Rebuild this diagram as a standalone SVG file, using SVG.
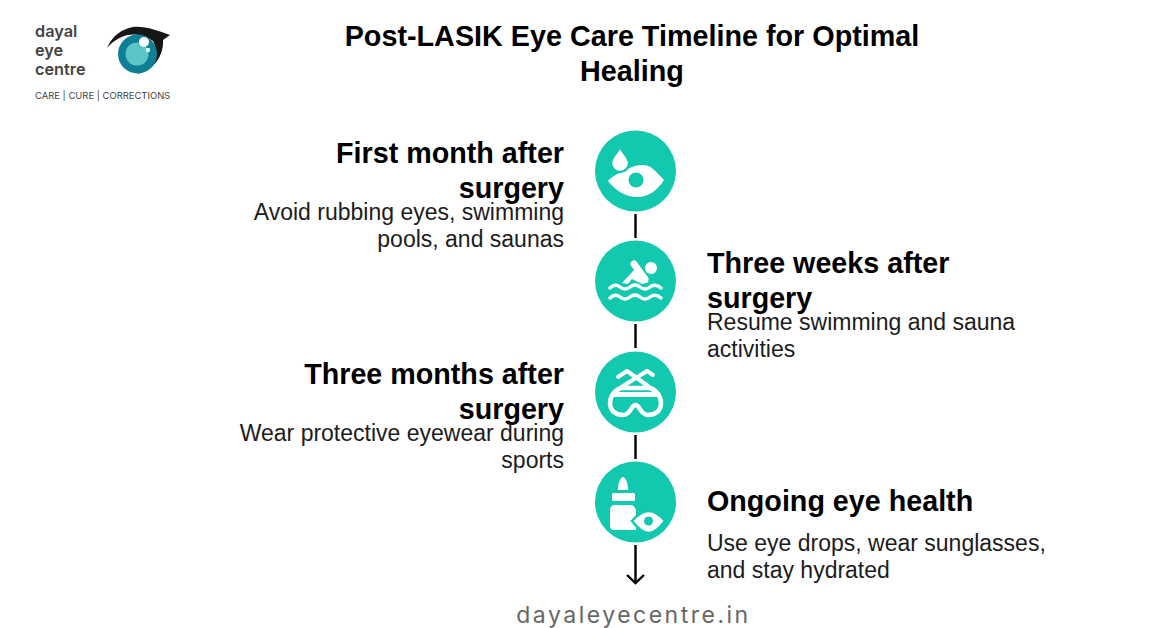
<svg xmlns="http://www.w3.org/2000/svg" width="1170" height="628" viewBox="0 0 1170 628">
<style>
text{font-family:"Liberation Sans",Arial,sans-serif;fill:#000}
.h{font-size:28.700px;font-weight:700}
.b{font-size:23px;fill:#1c1c1c}
.t{font-size:28.750px;font-weight:700;text-anchor:middle}
.e{text-anchor:end}
.c{fill:#12c9b0}
.w{fill:#fff}
.s{fill:none;stroke:#fff;stroke-linecap:round;stroke-linejoin:round}
.l{stroke:#000;stroke-width:2.400;fill:none}
.logo{font-family:"Inter","Liberation Sans",sans-serif;fill:#444;font-size:16.300px;font-weight:600}
</style>
<rect width="1170" height="628" fill="#fff"/>
<g id="logo">
<text class="logo" x="35" y="37">dayal</text>
<text class="logo" x="35" y="56">eye</text>
<text class="logo" x="35" y="75">centre</text>
<text x="35" y="99" style="font-family:'Inter','Liberation Sans',sans-serif;font-size:9.450px;fill:#444">CARE | CURE | CORRECTIONS</text>
<path d="M107 48C112 36 122 29 133 27C146 26 158 31 170 35L163 40C164 56 153 71 137 74C150 68 159 52 153 41C139 30 119 33 107 48Z" fill="#161616"/>
<circle cx="137.500" cy="54" r="19.500" fill="#0f7f95"/>
<circle cx="137" cy="54" r="11.500" fill="#5cc5c7"/>
<circle cx="144" cy="42" r="5" fill="#fff"/>
<circle cx="148" cy="50" r="2.200" fill="#dff"/>
</g>
<g id="title">
<text class="t" x="632" y="46">Post-LASIK Eye Care Timeline for Optimal</text>
<text class="t" x="632" y="81">Healing</text>
</g>
<g id="connectors">
<path class="l" d="M635.500 214V238M635.500 324V348M635.500 435V459M635.500 545V583"/>
<path class="l" d="M627 575L635.500 583L644 575"/>
</g>
<g id="node1">
<circle class="c" cx="635.500" cy="171" r="40.500"/>
<path class="w" d="M608 181C613 175 620 173 626 170C636 164 647 163 653 169C657 172 660 176 664 180C657 191 648 197 637 197C625 197 615 190 608 181Z"/>
<circle class="c" cx="636" cy="180" r="7.500"/>
<path class="w" stroke="#12c9b0" stroke-width="2.500" d="M620 147C623 153 629 157 629 163C629 168 625 172 620 172C615 172 611 168 611 163C611 157 617 153 620 147Z"/>
<text class="h e" x="564" y="163">First month after</text>
<text class="h e" x="564" y="198">surgery</text>
<text class="b e" x="564" y="220">Avoid rubbing eyes, swimming</text>
<text class="b e" x="564" y="247">pools, and saunas</text>
</g>
<g id="node2">
<circle class="c" cx="635.500" cy="281" r="40.500"/>
<circle class="w" cx="651" cy="268" r="6"/>
<path class="s" stroke-width="7" d="M634 264L645 279"/>
<path class="w" d="M634 270L649 282L642 284L632 279L628 284L622 283Z"/>
<path class="s" stroke-width="3.500" d="M610 288Q615 283 620 287T630 287T640 287T650 287T661 288M610 298Q615 293 620 297T630 297T640 297T650 297T661 298"/>
<text class="h" x="707" y="273">Three weeks after</text>
<text class="h" x="707" y="308">surgery</text>
<text class="b" x="707" y="330">Resume swimming and sauna</text>
<text class="b" x="707" y="357">activities</text>
</g>
<g id="node3">
<circle class="c" cx="635.500" cy="392" r="40.500"/>
<path class="s" stroke-width="4" d="M620 388L647 371L653 375M618 377L627 371L648 386"/>
<path class="s" stroke-width="4.500" d="M621 388H650C656 390 661 396 661 403C661 411 655 415 648 415C640 415 640 405 635.500 405C631 405 631 415 623 415C616 415 610 411 610 403C610 396 615 390 621 388Z"/>
<path class="w" d="M611 392H660V397H611Z"/>
<text class="h e" x="564" y="384">Three months after</text>
<text class="h e" x="564" y="419">surgery</text>
<text class="b e" x="564" y="441">Wear protective eyewear during</text>
<text class="b e" x="564" y="468">sports</text>
</g>
<g id="node4">
<circle class="c" cx="635.500" cy="502" r="40.500"/>
<path class="w" d="M618 490C618 483 620 478 623 477C626 478 628 483 628 490ZM614 493H633C635 493 635 494 635 495V499C635 500 635 501 633 501H614C612 501 612 500 612 499V495C612 494 612 493 614 493ZM615 505H630C634 505 636 508 636 512V530H614C611 530 610 528 610 526V510C610 507 612 505 615 505Z"/>
<path class="w" stroke="#12c9b0" stroke-width="2.500" d="M632 521C638 514 644 511 649 511C655 511 660 515 665 521C660 527 655 533 649 533C643 533 638 529 632 521Z"/>
<circle class="c" cx="648.500" cy="521" r="4.500"/>
<text class="h" x="707" y="511">Ongoing eye health</text>
<text class="b" x="707" y="551">Use eye drops, wear sunglasses,</text>
<text class="b" x="707" y="578">and stay hydrated</text>
</g>
<g id="footer">
<text x="633.500" y="623" text-anchor="middle" style="font-family:'Inter','Liberation Sans',sans-serif;font-size:23px;fill:#666;letter-spacing:2.500px">dayaleyecentre.in</text>
</g>
</svg>
